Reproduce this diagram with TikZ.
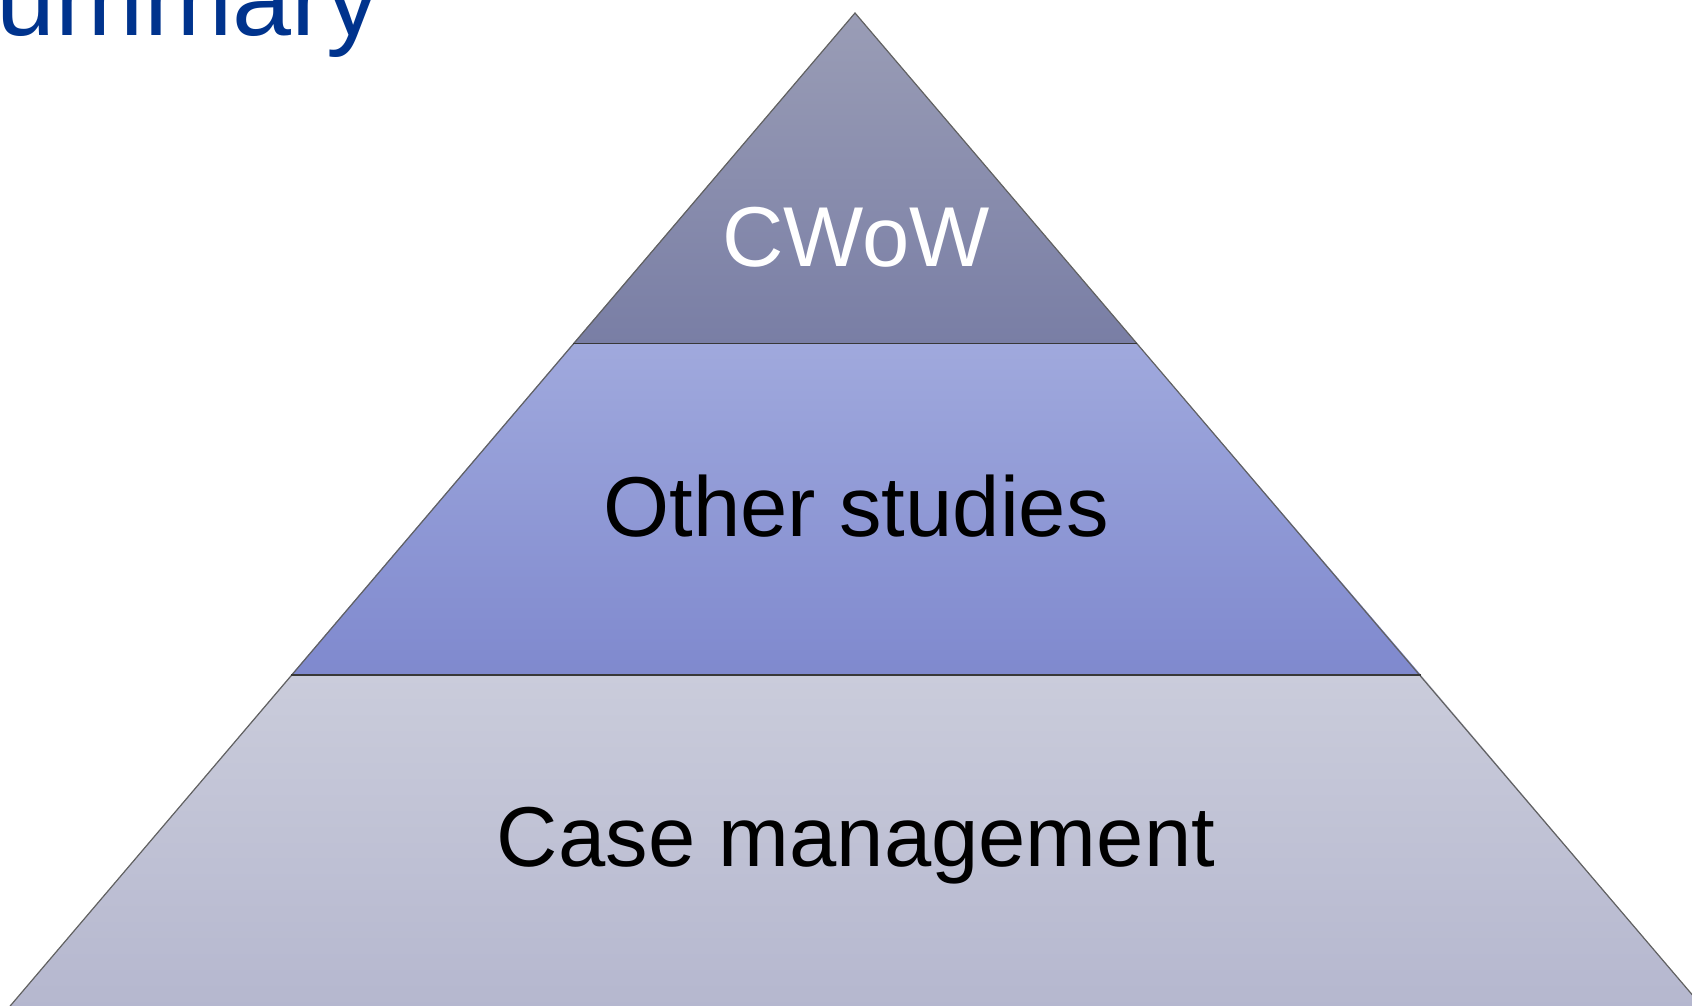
\documentclass[tikz,border=0pt]{standalone}
\usepackage{fontspec}
\setmainfont{Liberation Sans}
\definecolor{topA}{RGB}{154,157,182}
\definecolor{topB}{RGB}{121,126,165}
\definecolor{midA}{RGB}{160,169,221}
\definecolor{midB}{RGB}{127,137,206}
\definecolor{botA}{RGB}{202,204,219}
\definecolor{botB}{RGB}{180,182,206}
\definecolor{titleblue}{RGB}{0,51,141}
\begin{document}
\begin{tikzpicture}[x=1pt,y=-1pt,
  edge/.style={draw=black!62,line width=1.2pt},
  sep/.style={draw=black!78,line width=1.6pt},
  label/.style={font=\fontsize{85}{100}\selectfont,anchor=base,inner sep=0pt}]
\useasboundingbox (0,0) rectangle (1692,1006);
\begin{scope}
\clip (0,0) rectangle (1692,1006);
\coordinate (apex) at (855,13);
\coordinate (l1) at (573,343.5);
\coordinate (r1) at (1137,343.5);
\coordinate (l2) at (291,675);
\coordinate (r2) at (1421,675);
\coordinate (l3) at (-6,1025);
\coordinate (r3) at (1718,1025);
% bands
\shade[top color=topA,bottom color=topB] (apex) -- (r1) -- (l1) -- cycle;
\shade[top color=midA,bottom color=midB] (l1) -- (r1) -- (r2) -- (l2) -- cycle;
\shade[top color=botA,bottom color=botB] (l2) -- (r2) -- (r3) -- (l3) -- cycle;
% outline
\draw[edge] (l3) -- (apex) -- (r3);
\draw[sep] (l1) -- (r1);
\draw[sep] (l2) -- (r2);
% title
\node[font=\fontsize{106}{126}\selectfont,text=titleblue,anchor=base east,inner sep=0pt] (title) at (380,36) {Summary};
\end{scope}
\node[label,text=white] (cwow) at (856,266) {CWoW};
\node[label,text=black] (other) at (856,536) {Other studies};
\node[label,text=black] (case) at (856,866) {Case management};
\end{tikzpicture}
\end{document}
